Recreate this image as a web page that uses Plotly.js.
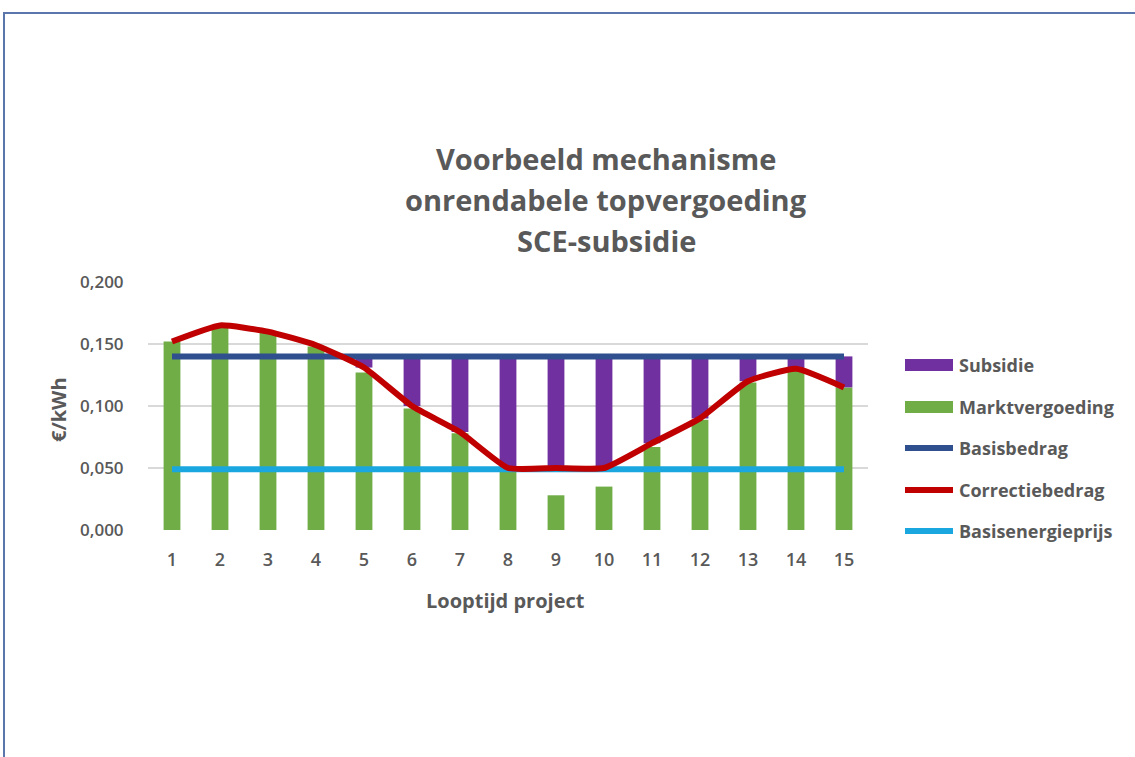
<!DOCTYPE html>
<html>
<head>
<meta charset="utf-8">
<script src="https://cdn.plot.ly/plotly-3.0.1.min.js"></script>
<style>
  html, body { margin: 0; padding: 0; background: #ffffff; }
  #frame { position: absolute; left: 3px; top: 12px; width: 1132px; height: 745px;
           border-top: 2px solid #5b75ad; border-left: 2px solid #5b75ad; box-sizing: border-box; }
  #chart { position: absolute; left: 0; top: 0; width: 1135px; height: 757px; }
</style>
</head>
<body>
<div id="frame"></div>
<div id="chart"></div>
<script>
// ---- data ----
const years = [1, 2, 3, 4, 5, 6, 7, 8, 9, 10, 11, 12, 13, 14, 15];
const marktvergoeding = [0.152, 0.164, 0.159, 0.148, 0.127, 0.098, 0.078, 0.048, 0.028, 0.035, 0.067, 0.089, 0.119, 0.129, 0.115];
const correctiebedrag = [0.152, 0.165, 0.160, 0.149, 0.131, 0.100, 0.079, 0.050, 0.050, 0.050, 0.070, 0.090, 0.120, 0.130, 0.115];
const subsidie = [0, 0, 0, 0, 0.009, 0.040, 0.061, 0.090, 0.090, 0.090, 0.070, 0.050, 0.020, 0.010, 0.025];
const basisbedrag = [0.140, 0.140, 0.140, 0.140, 0.140, 0.140, 0.140, 0.140, 0.140, 0.140, 0.140, 0.140, 0.140, 0.140, 0.140];
const basisenergieprijs = [0.049, 0.049, 0.049, 0.049, 0.049, 0.049, 0.049, 0.049, 0.049, 0.049, 0.049, 0.049, 0.049, 0.049, 0.049];
const yTicks = [0, 0.05, 0.1, 0.15, 0.2];
const titleLines = ["Voorbeeld mechanisme", "onrendabele topvergoeding", "SCE-subsidie"];
const legendNames = ["Subsidie", "Marktvergoeding", "Basisbedrag", "Correctiebedrag", "Basisenergieprijs"];

// ---- styles ----
const C = { purple: "#7030a0", green: "#70ad47", blue: "#2f4f8f", red: "#c00000", cyan: "#1aa7e0" };
const TXT = "#595959";
const FONT = "Open Sans";

const traces = [
  { type: "bar", x: years, y: marktvergoeding, width: 0.35, marker: { color: C.green }, name: legendNames[1], showlegend: false },
  { type: "bar", x: years, y: subsidie, base: correctiebedrag, width: 0.35, marker: { color: C.purple }, name: legendNames[0], showlegend: false },
  { type: "scatter", mode: "lines", x: years, y: basisbedrag, line: { color: C.blue, width: 6 }, name: legendNames[2], showlegend: false },
  { type: "scatter", mode: "lines", x: years, y: basisenergieprijs, line: { color: C.cyan, width: 6 }, name: legendNames[4], showlegend: false },
  { type: "scatter", mode: "lines", x: years, y: correctiebedrag, line: { color: C.red, width: 6, shape: "spline", smoothing: 0.45 }, name: legendNames[3], showlegend: false }
];

// pixel helpers for legend placement (plot area: x 148..868, y 282..530)
const L = 148, W = 720, B = 530, H = 248;
const px = v => (v - L) / W;
const py = v => (B - v) / H;

const legendY = [365, 407, 448, 490, 531];
const legendKinds = ["rect", "rect", "line", "line", "line"];
const legendColors = [C.purple, C.green, C.blue, C.red, C.cyan];

const shapes = [];
const annotations = [];
legendNames.forEach((n, i) => {
  if (legendKinds[i] === "rect") {
    shapes.push({ type: "rect", xref: "paper", yref: "paper", x0: px(905), x1: px(953), y0: py(legendY[i] + 6), y1: py(legendY[i] - 6),
      fillcolor: legendColors[i], line: { width: 0 } });
  } else {
    shapes.push({ type: "line", xref: "paper", yref: "paper", x0: px(905), x1: px(953), y0: py(legendY[i]), y1: py(legendY[i]),
      line: { color: legendColors[i], width: 6 } });
  }
  annotations.push({ xref: "paper", yref: "paper", x: px(957), y: py(legendY[i]), xanchor: "left", yanchor: "middle",
    text: n, showarrow: false, font: { family: FONT, size: 18, color: TXT, weight: 700 } });
});

const titleY = [158, 199, 240];
titleLines.forEach((t, i) => {
  annotations.push({ xref: "paper", yref: "paper", x: px(606), y: py(titleY[i]), xanchor: "center", yanchor: "middle",
    text: "<b>" + t + "</b>", showarrow: false, font: { family: FONT, size: 29, color: TXT } });
});

annotations.push({ xref: "paper", yref: "paper", x: px(505), y: py(600), xanchor: "center", yanchor: "middle",
  text: "<b>Looptijd project</b>", showarrow: false, font: { family: FONT, size: 20, color: TXT } });
annotations.push({ xref: "paper", yref: "paper", x: px(58), y: py(410), xanchor: "center", yanchor: "middle", textangle: -90,
  text: "<b>€/kWh</b>", showarrow: false, font: { family: FONT, size: 20, color: TXT } });

const layout = {
  width: 1135, height: 757,
  margin: { l: L, r: 1135 - L - W, t: B - H, b: 757 - B, pad: 0 },
  paper_bgcolor: "rgba(0,0,0,0)", plot_bgcolor: "rgba(0,0,0,0)",
  separators: ",.",
  barmode: "overlay",
  showlegend: false,
  xaxis: {
    range: [0.5, 15.5], tickvals: years, ticktext: years.map(String),
    showgrid: false, zeroline: false, showline: false,
    ticks: "outside", ticklen: 13, tickcolor: "rgba(0,0,0,0)",
    tickfont: { family: FONT, size: 18, color: TXT, weight: 600 }
  },
  yaxis: {
    range: [0, 0.2], tickvals: yTicks, tickformat: ".3f",
    showgrid: true, gridcolor: "#d9d9d9", gridwidth: 1.5, zeroline: false, showline: false,
    ticks: "outside", ticklen: 20, tickcolor: "rgba(0,0,0,0)",
    tickfont: { family: FONT, size: 17, color: TXT, weight: 600 }
  },
  shapes: shapes,
  annotations: annotations
};

Plotly.newPlot("chart", traces, layout, { displayModeBar: false, staticPlot: true });
</script>
</body>
</html>
